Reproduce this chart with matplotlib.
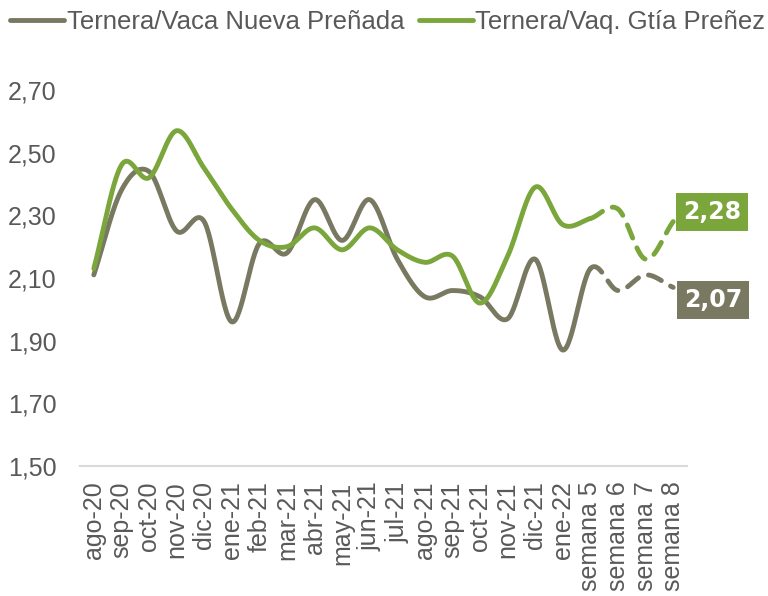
import numpy as np
import matplotlib
matplotlib.use("Agg")
import matplotlib.pyplot as plt

categories = ["ago-20", "sep-20", "oct-20", "nov-20", "dic-20", "ene-21", "feb-21",
              "mar-21", "abr-21", "may-21", "jun-21", "jul-21", "ago-21", "sep-21",
              "oct-21", "nov-21", "dic-21", "ene-22", "semana 5", "semana 6",
              "semana 7", "semana 8"]
nueva_prenada = [2.11, 2.38, 2.44, 2.25, 2.28, 1.96, 2.21, 2.18, 2.35, 2.22, 2.35,
                 2.16, 2.04, 2.06, 2.04, 1.97, 2.16, 1.87, 2.13, 2.06, 2.11, 2.07]
gtia_prenez = [2.13, 2.46, 2.42, 2.57, 2.45, 2.32, 2.22, 2.20, 2.26, 2.19, 2.26,
               2.19, 2.15, 2.17, 2.02, 2.17, 2.39, 2.27, 2.29, 2.32, 2.16, 2.28]
series_names = ["Ternera/Vaca Nueva Preñada", "Ternera/Vaq. Gtía Preñez"]
yticks = [1.50, 1.70, 1.90, 2.10, 2.30, 2.50, 2.70]
split_index = 18  # from "semana 5" on, dashed

GRAY = "#797861"
GREEN = "#7AA63B"
TXT = "#595959"

plt.rcParams["font.family"] = ["Liberation Sans", "DejaVu Sans"]


def catmull_rom(x, y, n=30):
    x = np.asarray(x, float)
    y = np.asarray(y, float)
    px = np.concatenate([[2 * x[0] - x[1]], x, [2 * x[-1] - x[-2]]])
    py = np.concatenate([[2 * y[0] - y[1]], y, [2 * y[-1] - y[-2]]])
    xs, ys = [], []
    for i in range(1, len(px) - 2):
        t = np.linspace(0, 1, n, endpoint=False)
        for arr, out in ((px, xs), (py, ys)):
            p0, p1, p2, p3 = arr[i - 1], arr[i], arr[i + 1], arr[i + 2]
            out.append(0.5 * ((2 * p1) + (-p0 + p2) * t
                              + (2 * p0 - 5 * p1 + 4 * p2 - p3) * t ** 2
                              + (-p0 + 3 * p1 - 3 * p2 + p3) * t ** 3))
    xs = np.concatenate(xs + [[x[-1]]])
    ys = np.concatenate(ys + [[y[-1]]])
    return xs, ys


fig = plt.figure(figsize=(7.68, 5.96), dpi=100)
ax = fig.add_axes([0.1042, 0.2181, 0.7903, 0.6309])

xpos = np.arange(len(categories))
handles = []
for vals, color, name in ((nueva_prenada, GRAY, series_names[0]),
                          (gtia_prenez, GREEN, series_names[1])):
    sx, sy = catmull_rom(xpos, vals)
    solid = sx <= split_index + 1e-9
    dashed = sx >= split_index - 1e-9
    h, = ax.plot(sx[solid], sy[solid], color=color, lw=3.5,
                 solid_capstyle="round", label=name)
    ax.plot(sx[dashed], sy[dashed], color=color, lw=3.5,
            dashes=(2.9, 2.2), dash_capstyle="round")
    handles.append(h)

ax.set_xlim(-0.5, len(categories) - 0.5)
ax.set_ylim(1.5, 2.7)
ax.set_yticks(yticks)
ax.set_yticklabels([f"{v:.2f}".replace(".", ",") for v in yticks])
ax.set_xticks(xpos)
ax.set_xticklabels(categories, rotation=90, va="top", ha="center")
ax.tick_params(axis="both", length=0, labelsize=18, colors=TXT)
ax.tick_params(axis="x", pad=11)
ax.tick_params(axis="y", pad=17)
for s in ("top", "left", "right"):
    ax.spines[s].set_visible(False)
ax.spines["bottom"].set_color("#D9D9D9")
ax.spines["bottom"].set_linewidth(1.5)

# end labels
for vals, color, off in ((gtia_prenez, GREEN, (39, 10)),
                         (nueva_prenada, GRAY, (40, -13))):
    ax.annotate(f"{vals[-1]:.2f}".replace(".", ","), xy=(xpos[-1], vals[-1]),
                xytext=off, textcoords="offset pixels", ha="center", va="center",
                fontsize=17, fontweight="bold", color="white",
                family="DejaVu Sans", annotation_clip=False,
                bbox=dict(boxstyle="square,pad=0.3", fc=color, ec="none"))

fig.legend(handles=handles, loc="center", bbox_to_anchor=(0.505, 0.963),
           ncol=2, frameon=False, fontsize=18.5, handlelength=2.1,
           handletextpad=0.1, columnspacing=0.55, labelcolor=TXT,
           borderaxespad=0, borderpad=0)

fig.savefig("out.png", dpi=100)
